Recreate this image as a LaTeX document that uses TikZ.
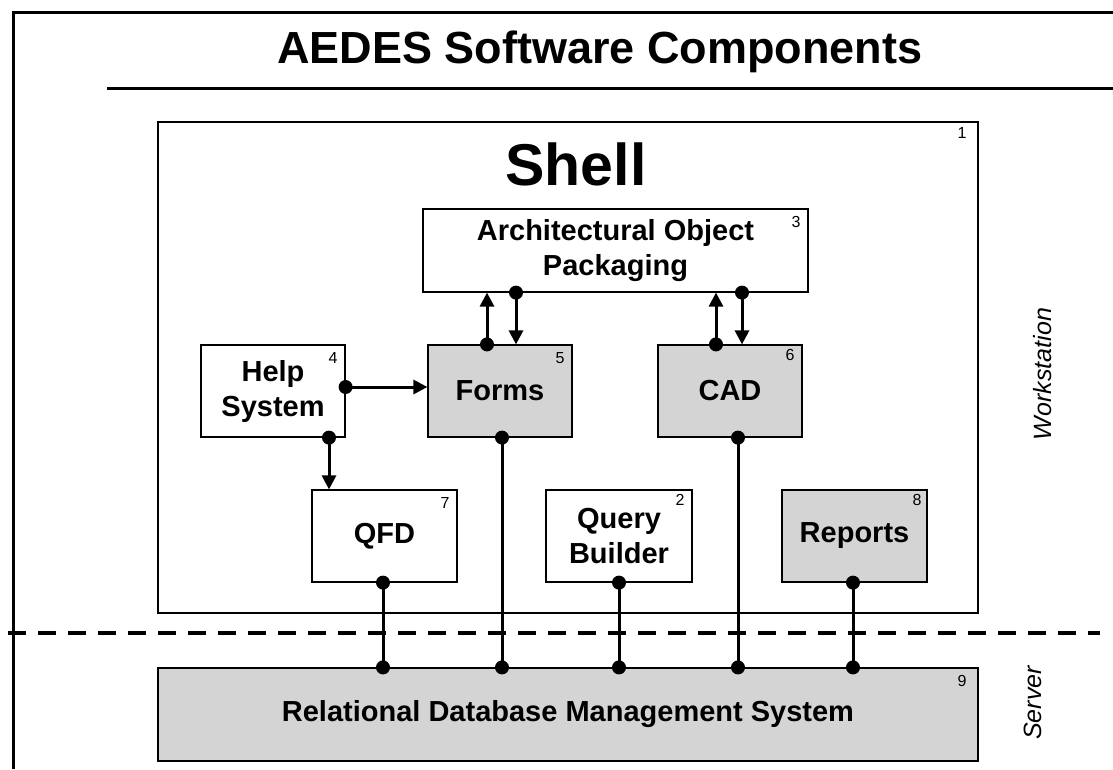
\documentclass[tikz,border=0pt]{standalone}
\usepackage{fontspec}
\setmainfont{Liberation Sans}
\usetikzlibrary{arrows.meta,calc}
\definecolor{shade}{RGB}{212,212,212}
\tikzset{
  box/.style={draw, line width=1.2pt, inner sep=0pt, align=center,
    font=\bfseries\fontsize{29}{35}\selectfont},
  shadedbox/.style={box, fill=shade},
  num/.style={anchor=north east, inner sep=0pt, font=\fontsize{16}{16}\selectfont},
  link/.style={line width=3pt},
  arr/.style={link, -{Triangle[length=14pt,width=14pt]}},
  side/.style={rotate=90, font=\itshape\fontsize{25}{25}\selectfont},
  frame/.style={line width=3pt},
}
\begin{document}
\begin{tikzpicture}[x=1pt,y=-1pt]
\useasboundingbox (0,0) rectangle (1113,769);
% frame and title
\coordinate (fb) at (13,769);
\coordinate (ftl) at (13,12);
\coordinate (ftr) at (1113,12);
\draw[frame] (fb) -- (ftl) -- (ftr);
\node[anchor=base, font=\bfseries\fontsize{45}{45}\selectfont] (title) at (600,63) {AEDES Software Components};
\coordinate (rl) at (107,88);
\coordinate (rr) at (1113,88);
\draw[frame] (rl) -- (rr);
% shell
\node[draw, line width=1.5pt, minimum width=820, minimum height=491] (shell) at (568,367.5) {};
\node[anchor=base, font=\bfseries\fontsize{59}{59}\selectfont] (shelltxt) at (576,185) {Shell};
\node[num] at ([shift={(-12pt,-6pt)}]shell.north east) {1};
% boxes
\node[box, minimum width=385, minimum height=83] (apo) at (615.5,250.5) {Architectural Object\\Packaging};
\node[box, minimum width=144, minimum height=92] (help) at (273,391) {Help\\System};
\node[shadedbox, minimum width=144, minimum height=92] (forms) at (500,391) {Forms};
\node[shadedbox, minimum width=144, minimum height=92] (cad) at (730,391) {CAD};
\node[box, minimum width=145, minimum height=92] (qfd) at (384.5,536) {QFD};
\node[box, minimum width=146, minimum height=92] (query) at (619,536) {Query\\Builder};
\node[shadedbox, minimum width=145, minimum height=92] (reports) at (854.5,536) {Reports};
\node[shadedbox, minimum width=820, minimum height=93] (rdbms) at (568,714.5) {Relational Database Management System};
% numbers
\node[num] at ([shift={(-8pt,-8pt)}]apo.north east) {3};
\node[num] at ([shift={(-8pt,-8pt)}]help.north east) {4};
\node[num] at ([shift={(-8pt,-8pt)}]forms.north east) {5};
\node[num] at ([shift={(-8pt,-5pt)}]cad.north east) {6};
\node[num] at ([shift={(-8pt,-8pt)}]qfd.north east) {7};
\node[num] at ([shift={(-8pt,-5pt)}]query.north east) {2};
\node[num] at ([shift={(-6pt,-5pt)}]reports.north east) {8};
\node[num] at ([shift={(-12pt,-8pt)}]rdbms.north east) {9};
% side labels
\node[side] (ws) at (1043,374) {Workstation};
\node[side] (sv) at (1033,703) {Server};
% dashed divider
\coordinate (dl) at (8,633);
\coordinate (dr) at (1100,633);
\draw[line width=4pt, dash pattern=on 18pt off 12pt] (dl) -- (dr);
% APO <-> Forms / CAD
\draw[arr] ([xshift=-13pt]forms.north) -- ([xshift=-13pt]forms.north |- apo.south);
\fill ([xshift=-13pt]forms.north) circle (7pt);
\draw[arr] ([xshift=16pt]forms.north |- apo.south) -- ([xshift=16pt]forms.north);
\fill ([xshift=16pt]forms.north |- apo.south) circle (7pt);
\draw[arr] ([xshift=-14pt]cad.north) -- ([xshift=-14pt]cad.north |- apo.south);
\fill ([xshift=-14pt]cad.north) circle (7pt);
\draw[arr] ([xshift=12pt]cad.north |- apo.south) -- ([xshift=12pt]cad.north);
\fill ([xshift=12pt]cad.north |- apo.south) circle (7pt);
% Help -> Forms, Help -> QFD
\draw[arr] ([yshift=4pt]help.east) -- ([yshift=4pt]help.east -| forms.west);
\fill ([yshift=4pt]help.east) circle (7pt);
\draw[arr] ([xshift=56pt]help.south) -- ([xshift=56pt]help.south |- qfd.north);
\fill ([xshift=56pt]help.south) circle (7pt);
% links to RDBMS
\foreach \n/\dx in {qfd/-1.5pt, forms/2pt, query/0pt, cad/8pt, reports/-1.5pt}{
  \draw[link] ([xshift=\dx]\n.south) -- ([xshift=\dx]\n.south |- rdbms.north);
  \fill ([xshift=\dx]\n.south) circle (7pt);
  \fill ([xshift=\dx]\n.south |- rdbms.north) circle (7pt);
}
\end{tikzpicture}
\end{document}
